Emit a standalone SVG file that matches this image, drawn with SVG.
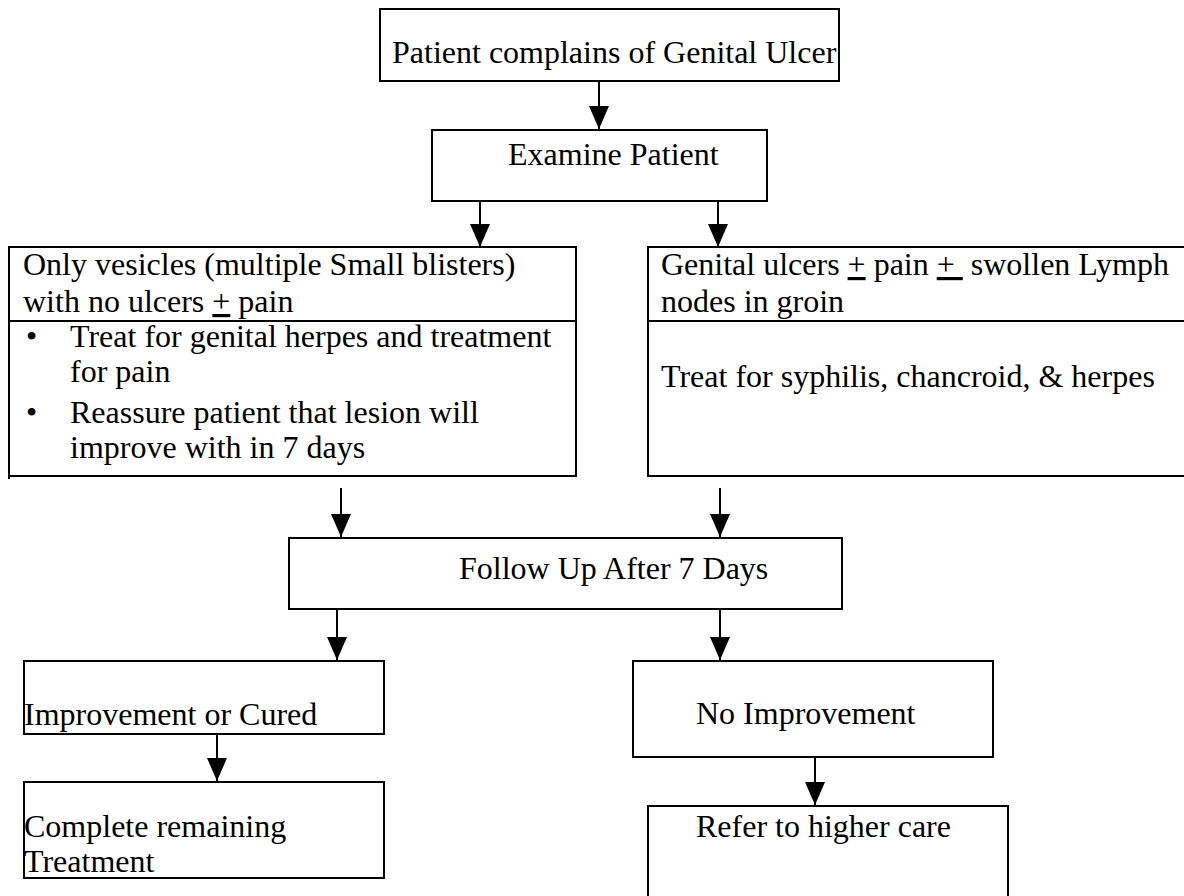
<svg xmlns="http://www.w3.org/2000/svg" width="1184" height="896" viewBox="0 0 1184 896">
  <defs>
    <style>
      .box { fill: #ffffff; stroke: #000000; stroke-width: 2; }
      .rule { stroke: #000000; stroke-width: 2; fill: none; }
      .edge { stroke: #000000; stroke-width: 2; fill: none; marker-end: url(#arrow); }
      text { font-family: "Liberation Serif", "Times New Roman", serif; font-size: 32px; fill: #000000; }
      .u { text-decoration: underline; }
    </style>
    <marker id="arrow" viewBox="0 0 23 20" refX="23" refY="10" markerWidth="23" markerHeight="20" markerUnits="userSpaceOnUse" orient="auto">
      <path d="M0,0 L23,10 L0,20 Z" fill="#000000"/>
    </marker>
  </defs>
  <rect width="1184" height="896" fill="#ffffff"/>

  <!-- connectors -->
  <g id="connectors">
    <line class="edge" x1="599" y1="81" x2="599" y2="129"/>
    <line class="edge" x1="480" y1="201" x2="480" y2="247"/>
    <line class="edge" x1="718" y1="201" x2="718" y2="247"/>
    <line class="edge" x1="341" y1="488" x2="341" y2="537"/>
    <line class="edge" x1="720" y1="488" x2="720" y2="537"/>
    <line class="edge" x1="337" y1="609" x2="337" y2="660"/>
    <line class="edge" x1="720" y1="609" x2="720" y2="660"/>
    <line class="edge" x1="217" y1="734" x2="217" y2="781"/>
    <line class="edge" x1="815" y1="757" x2="815" y2="805"/>
  </g>

  <g id="complaint">
    <rect class="box" x="380" y="9" width="459" height="72"/>
    <text x="392" y="63">Patient complains of Genital Ulcer</text>
  </g>

  <g id="examine">
    <rect class="box" x="432" y="130" width="335" height="71"/>
    <text x="508" y="165">Examine Patient</text>
  </g>

  <g id="vesicles">
    <rect class="box" x="9" y="247" width="567" height="229"/>
    <line class="rule" x1="9" y1="321" x2="576" y2="321"/>
    <line class="rule" x1="9" y1="476" x2="9" y2="479"/>
    <text x="23" y="275">Only vesicles (multiple Small blisters)</text>
    <text x="23" y="312">with no ulcers <tspan class="u">+</tspan> pain</text>
    <text x="26" y="347">•</text>
    <text x="70" y="347">Treat for genital herpes and treatment</text>
    <text x="70" y="382">for pain</text>
    <text x="26" y="423">•</text>
    <text x="70" y="423">Reassure patient that lesion will</text>
    <text x="70" y="458">improve with in 7 days</text>
  </g>

  <g id="ulcers">
    <path class="rule" d="M1186,247 H648 V476 H1186"/>
    <line class="rule" x1="648" y1="321" x2="1186" y2="321"/>
    <text x="661" y="275">Genital ulcers <tspan class="u">+</tspan> pain <tspan class="u">+&#160;</tspan>&#160;swollen Lymph</text>
    <text x="661" y="312">nodes in groin</text>
    <text x="661" y="387">Treat for syphilis, chancroid, &amp; herpes</text>
  </g>

  <g id="follow-up">
    <rect class="box" x="289" y="538" width="553" height="71"/>
    <text x="459" y="579">Follow Up After 7 Days</text>
  </g>

  <g id="improved">
    <rect class="box" x="24" y="661" width="360" height="73"/>
    <text x="24" y="725">Improvement or Cured</text>
  </g>

  <g id="complete">
    <rect class="box" x="24" y="782" width="360" height="96"/>
    <text x="24" y="837">Complete remaining</text>
    <text x="24" y="872">Treatment</text>
  </g>

  <g id="no-improvement">
    <rect class="box" x="633" y="661" width="360" height="96"/>
    <text x="696" y="724">No Improvement</text>
  </g>

  <g id="refer">
    <path class="rule" d="M648,900 V806 H1008 V900"/>
    <text x="696" y="837">Refer to higher care</text>
  </g>
</svg>
